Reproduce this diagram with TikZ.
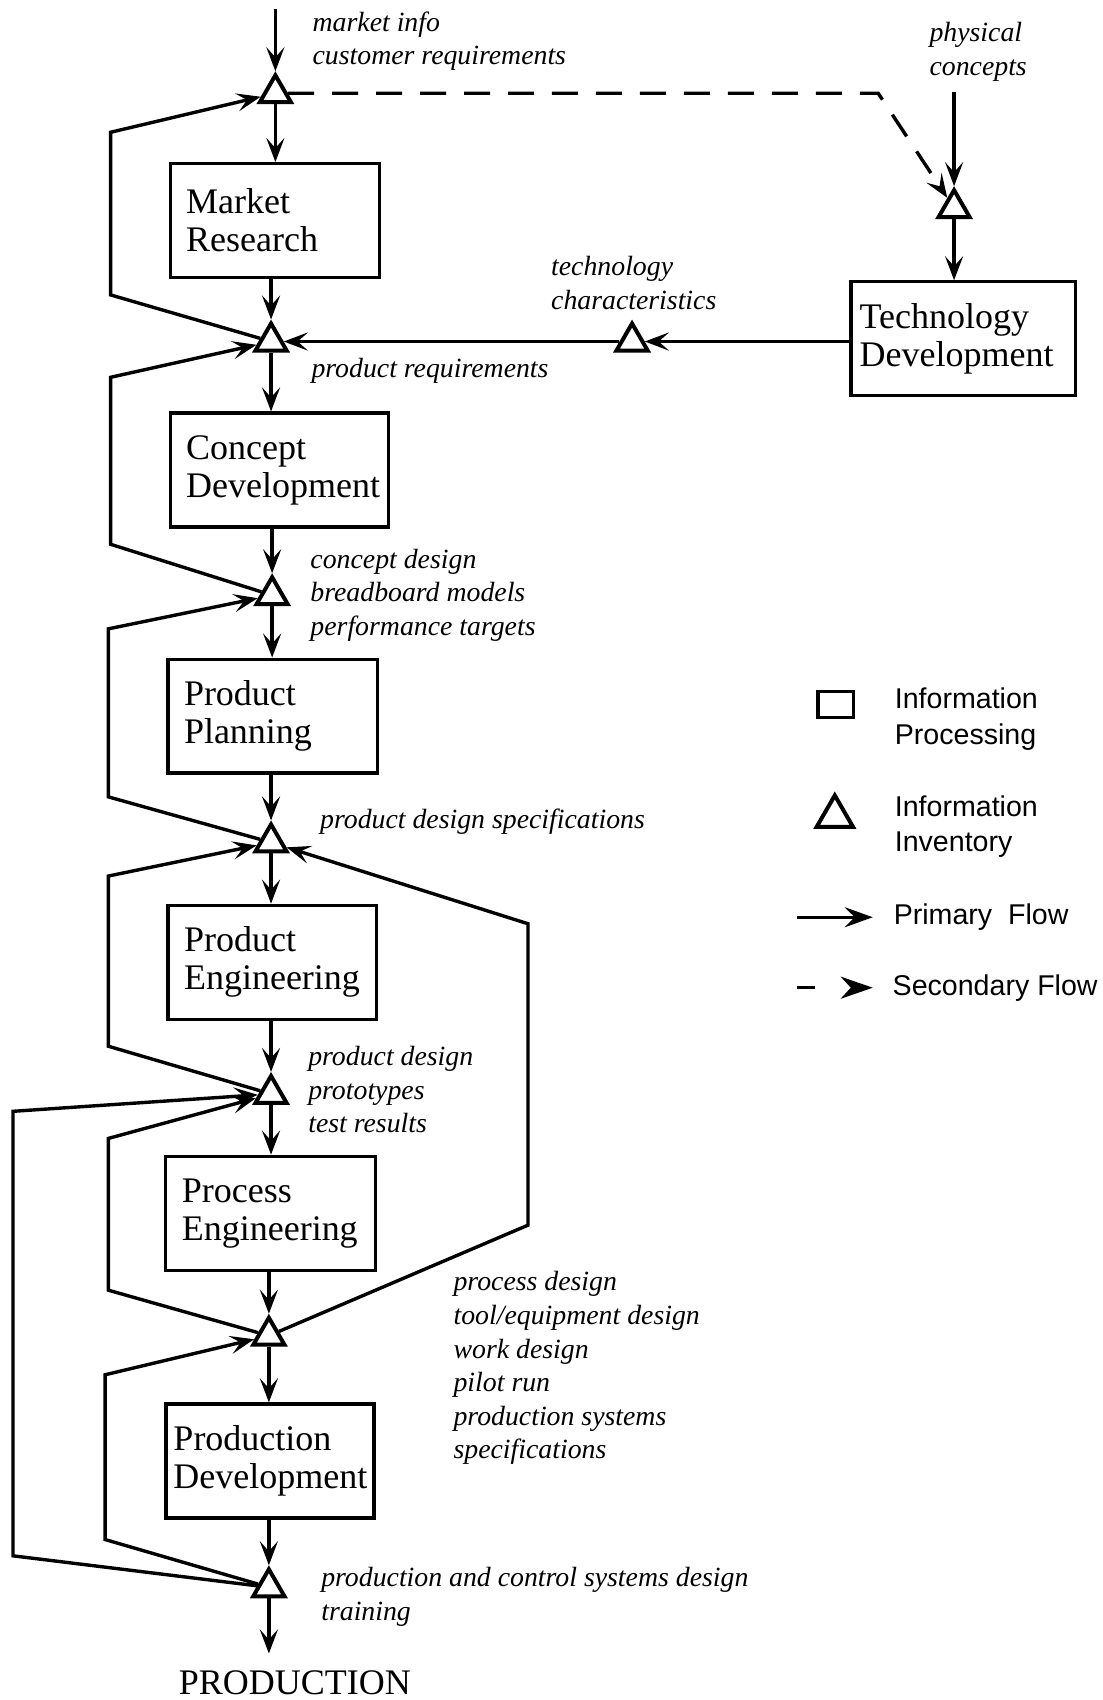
\documentclass[tikz,border=0pt]{standalone}
\usepackage{fontspec}
\setmainfont{Liberation Serif}
\setsansfont{Liberation Sans}
\usepackage{tikz}
\usetikzlibrary{arrows.meta,shapes.geometric,positioning}

\newcommand{\stagefont}{\fontsize{18}{19}\selectfont}
\newcommand{\notefont}{\itshape\fontsize{13.9}{16.8}\selectfont}
\newcommand{\keyfont}{\sffamily\fontsize{14.3}{17.9}\selectfont}

\begin{document}
\begin{tikzpicture}[
      x=0.5423pt, y=-0.5423pt,
      stage/.style={draw=black, line width=1.6pt, fill=white, align=left, font=\stagefont, minimum height=57pt, inner xsep=8pt, text width=#1},
      stage/.default=88.7pt,
      inv/.style={draw=black, line width=2pt, fill=white, regular polygon, regular polygon sides=3, minimum size=18pt, inner sep=0pt},
      infolabel/.style={font=\notefont, align=left, anchor=west, inner sep=0pt},
      keytext/.style={font=\keyfont, align=left, anchor=west, inner sep=0pt},
      flow/.style={line width=1.7pt, -{Stealth[length=12pt, width=9pt, inset=5pt]}, draw=black},
      secflow/.style={flow, dash pattern=on 13pt off 9pt}
      ]
      \useasboundingbox (0,0) rectangle (1017,1568);

      % Processing stages
      \node (mr) [stage] at (253.5,203.5) {Market\\Research};
      \node (cd) [stage=93pt] at (257.5,433.5) {Concept\\Development};
      \node (pp) [stage] at (251.5,660.5) {Product\\Planning};
      \node (pe) [stage=88.1pt] at (251,887.5) {Product\\Engineering};
      \node (pc) [stage] at (249.5,1119) {Process\\Engineering};
      \node (pd) [stage=96.5pt, inner xsep=3.8pt] at (249,1347.5) {Production\\Development};
      \node (td) [stage=103.7pt, inner xsep=4.3pt] at (888.5,312.5) {Technology\\Development};
      \node (prod) [font=\stagefont] at (272,1552) {PRODUCTION};

      % Inventories
      \node (t1) [inv] at (254,86) {};
      \node (t2) [inv] at (250,315) {};
      \node (t3) [inv] at (880,192) {};
      \node (t4) [inv] at (583,315) {};
      \node (t5) [inv] at (251,549) {};
      \node (t6) [inv] at (250,777) {};
      \node (t7) [inv] at (250,1009) {};
      \node (t8) [inv] at (248,1232) {};
      \node (t9) [inv] at (248,1464) {};

      % Labels
      \node (l1) [infolabel] at (288,38) {market info\\customer requirements};
      \node (l2) [infolabel] at (857,48) {physical\\concepts};
      \node (l3) [infolabel] at (508,261) {technology\\characteristics};
      \node (l4) [infolabel] at (287,342) {product requirements};
      \node (l5) [infolabel] at (286,549) {concept design\\breadboard models\\performance targets};
      \node (l6) [infolabel] at (295,758) {product design specifications};
      \node (l7) [infolabel] at (284,1005) {product design\\prototypes\\test results};
      \node (l8) [infolabel] at (418,1262) {process design\\tool/equipment design\\work design\\pilot run\\production systems\\specifications};
      \node (l9) [infolabel] at (296,1473) {production and control systems design\\training};

      % Legend
      \node (kbox) [draw=black, line width=1.6pt, minimum width=17.9pt, minimum height=13pt, inner sep=0pt] at (771,650) {};
      \node (ktri) [inv, minimum size=21pt] at (770,753) {};
      \node (kt1) [keytext] at (825,663.5) {Information\\Processing};
      \node (kt2) [keytext] at (825,762.5) {Information\\Inventory};
      \node (kt3) [keytext] at (824,846) {Primary\ \ Flow};
      \node (kt4) [keytext] at (823,911) {Secondary Flow};
      \coordinate (kp1) at (735,846);
      \coordinate (kp2) at (805,846);
      \coordinate (ks1) at (735,911);
      \coordinate (ks2) at (805,911);
      \draw [flow, -{Stealth[length=14pt, width=10pt, inset=5pt]}] (kp1) -- (kp2);
      \draw [flow, -{Stealth[length=16pt, width=11pt, inset=5pt]}, dash pattern=on 9pt off 30pt] (ks1) -- (ks2);

      % Main flow
      \coordinate (in) at (254,8);
      \coordinate (phys) at (880,85);
      \draw [flow] (in) -- (t1);
      \draw [flow] (t1) -- (t1 |- mr.north);
      \draw [flow] (mr.south -| t2) -- (t2);
      \draw [flow] (t2) -- (t2 |- cd.north);
      \draw [flow] (cd.south -| t5) -- (t5);
      \draw [flow] (t5) -- (t5 |- pp.north);
      \draw [flow] (pp.south -| t6) -- (t6);
      \draw [flow] (t6) -- (t6 |- pe.north);
      \draw [flow] (pe.south -| t7) -- (t7);
      \draw [flow] (t7) -- (t7 |- pc.north);
      \draw [flow] (pc.south -| t8) -- (t8);
      \draw [flow] (t8) -- (t8 |- pd.north);
      \draw [flow] (pd.south -| t9) -- (t9);
      \draw [flow, shorten >=5pt] (t9) -- (t9 |- prod.north);

      % Technology branch
      \draw [secflow] (t1) -- (810,86) -- (t3);
      \draw [flow] (phys) -- (t3);
      \draw [flow] (t3) -- (t3 |- td.north);
      \draw [flow] (td.west |- t4) -- (t4);
      \draw [flow] (t4) -- (t2);

      % Feedback loops
      \draw [flow] (t2) -- (102,272) -- (102,122) -- (t1);
      \draw [flow] (t5) -- (102,502) -- (102,348) -- (t2);
      \draw [flow] (t6) -- (100,735) -- (100,580) -- (t5);
      \draw [flow] (t7) -- (100,965) -- (100,808) -- (t6);
      \draw [flow] (t8) -- (100,1190) -- (100,1050) -- (t7);
      \draw [flow] (t9) -- (97,1420) -- (97,1268) -- (t8);
      \draw [flow] (t9) -- (12,1435) -- (12,1025) -- (t7);
      \draw [flow] (t8) -- (487,1130) -- (487,852) -- (t6);

    \end{tikzpicture}
\end{document}
